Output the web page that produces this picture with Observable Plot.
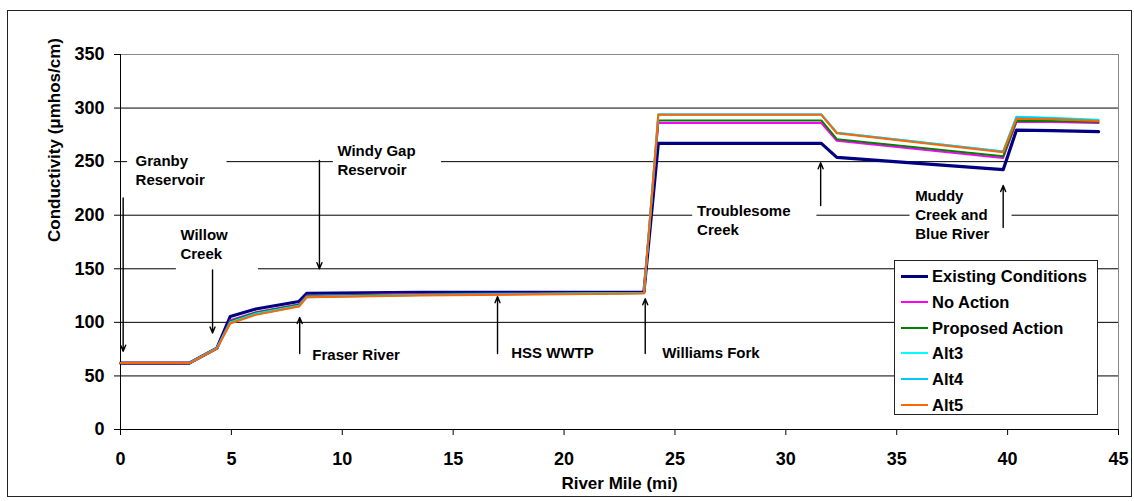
<!DOCTYPE html>
<html>
<head>
<meta charset="utf-8">
<script src="https://cdn.jsdelivr.net/npm/d3@7"></script>
<script src="https://cdn.jsdelivr.net/npm/@observablehq/plot@0.6"></script>
<style>
  body { margin: 0; background: #fff; font-family: "Liberation Sans", Arial, sans-serif; }
  #wrap { position: relative; width: 1134px; height: 501px; overflow: hidden; }
  #outer { position: absolute; left: 7px; top: 10px; width: 1125px; height: 487px; border: 1px solid #222; box-sizing: border-box; pointer-events: none; }
  #legend { position: absolute; left: 894px; top: 260px; width: 204px; height: 155px; background: #fff; border: 1px solid #222; box-sizing: border-box; }
  .item { position: absolute; left: 0; height: 20px; width: 200px; }
  .sw { position: absolute; left: 6px; width: 27px; top: 50%; }
  .lab { position: absolute; left: 37px; top: 0; line-height: 20px; font-size: 16.5px; font-weight: bold; color: #000; white-space: nowrap; }
</style>
</head>
<body>
<div id="wrap">
  <div id="chart"></div>
  <div id="legend"></div>
  <div id="outer"></div>
</div>
<script>
// ---- data ----
const riverMile = [0, 3.1, 4.35, 4.95, 6.1, 8.05, 8.4, 13.5, 23.6, 24.25, 31.6, 32.3, 39.8, 40.4, 42, 44.1];
const existingConditions = [62, 62, 76, 105.5, 112.5, 119.5, 127, 128, 128, 267, 267, 254, 242.5, 279.5, 279, 278];
const noAction          = [62, 62, 76, 102, 109.5, 117, 125, 126.5, 127.5, 286, 286, 269.5, 253.5, 287, 287, 286];
const proposedAction    = [62, 62, 76, 101, 109, 116.5, 124.5, 126, 127.5, 288.5, 288.5, 271, 255, 288, 288, 287];
const alt3              = [62, 62, 76, 100, 108, 115.5, 124, 125.5, 127.5, 294, 294, 277, 259.5, 292, 291, 289];
const alt4              = [62, 62, 76, 99.5, 107.5, 115, 123.5, 125.5, 127.5, 294, 294, 277, 259.5, 291.5, 290.5, 288.5];
const alt5              = [62, 62, 75.5, 99, 107, 114.8, 123.5, 125, 127, 293.7, 293.7, 276.5, 258.8, 290, 289.5, 288];

const seriesNames = ["Existing Conditions", "No Action", "Proposed Action", "Alt3", "Alt4", "Alt5"];
const seriesValues = [existingConditions, noAction, proposedAction, alt3, alt4, alt5];
const seriesColors = ["#000080", "#FF00FF", "#008000", "#00FFFF", "#00C8FF", "#FF6600"];

const xTicks = [0, 5, 10, 15, 20, 25, 30, 35, 40, 45];
const yTicks = [0, 50, 100, 150, 200, 250, 300, 350];

// annotations (data coordinates)
const annoLabels = ["Granby\nReservoir", "Willow\nCreek", "Windy Gap\nReservoir", "Fraser River", "HSS WWTP", "Williams Fork", "Troublesome\nCreek", "Muddy\nCreek and\nBlue River"];
const annoX = [0.68, 2.7, 9.78, 8.65, 17.62, 24.43, 26.0, 35.83];
const annoY = [243, 174, 252.5, 71, 72, 72, 196.5, 201.6];

const arrowX = [0.12, 4.15, 8.97, 8.08, 17.0, 23.66, 31.57, 39.8];
const arrowFrom = [216, 149, 251, 71, 71, 71, 209, 188.5];
const arrowTo = [73, 90, 150, 104.5, 124, 122, 249, 227.7];

const boxX1 = [0.32, 2.52, 9.6, 25.8, 35.6];
const boxX2 = [4.8, 6.22, 14.47, 31.4, 40.2];
const boxY1 = [227, 146.5, 234, 178, 172.7];
const boxY2 = [258, 193, 269, 214.7, 228.7];

// ---- tables ----
const rows = [];
seriesNames.forEach((name, s) => {
  riverMile.forEach((m, i) => rows.push({series: name, mile: m, value: seriesValues[s][i]}));
});
const annos = annoLabels.map((t, i) => ({text: t, x: annoX[i], y: annoY[i]}));
const arrows = arrowX.map((x, i) => ({x, y1: arrowFrom[i], y2: arrowTo[i]}));
const boxes = boxX1.map((x1, i) => ({x1, x2: boxX2[i], y1: boxY1[i], y2: boxY2[i]}));

const chart = Plot.plot({
  width: 1134,
  height: 501,
  marginLeft: 120,
  marginRight: 16,
  marginTop: 54,
  marginBottom: 72,
  style: {fontFamily: "'Liberation Sans', Arial, sans-serif", fontWeight: "bold", fontSize: "15px", background: "transparent"},
  x: {domain: [0, 45], label: null},
  y: {domain: [0, 350], label: null},
  color: {domain: seriesNames, range: seriesColors},
  marks: [
    Plot.gridY(yTicks.filter(d => d > 0 && d < 350), {stroke: "#000", strokeOpacity: 1, strokeWidth: 1}),
    Plot.rect(boxes, {x1: "x1", x2: "x2", y1: "y1", y2: "y2", fill: "#fff"}),
    Plot.frame({stroke: "#888"}),
    Plot.ruleX([0], {stroke: "#000"}),
    Plot.ruleY([0], {stroke: "#000"}),
    Plot.axisY({ticks: yTicks, tickSize: 6, tickPadding: 10, fontSize: 18, fontWeight: "bold", label: null}),
    Plot.axisX({ticks: xTicks, tickSize: 6, tickPadding: 17, fontSize: 18, fontWeight: "bold", label: null}),
    Plot.line(rows.filter(d => d.series === "Existing Conditions"), {x: "mile", y: "value", stroke: "series", strokeWidth: 3.2}),
    Plot.line(rows.filter(d => d.series !== "Existing Conditions"), {x: "mile", y: "value", z: "series", stroke: "series", strokeWidth: 2}),
    Plot.arrow(arrows, {x: "x", y1: "y1", y2: "y2", stroke: "#000", strokeWidth: 1.4, headLength: 7, headAngle: 45}),
    Plot.text(annos, {x: "x", y: "y", text: "text", textAnchor: "start", fontSize: 15, fontWeight: "bold", lineHeight: 1.27, fill: "#000"}),
    Plot.text(["River Mile (mi)"], {frameAnchor: "bottom", dy: 59, fontSize: 17, fontWeight: "bold", fill: "#000"}),
    Plot.text(["Conductivity (\u03bcmhos/cm)"], {frameAnchor: "left", dx: -66, rotate: -90, fontSize: 17, fontWeight: "bold", fill: "#000"})
  ]
});
document.getElementById("chart").appendChild(chart);

// ---- legend ----
const legend = document.getElementById("legend");
seriesNames.forEach((name, i) => {
  const item = document.createElement("div");
  item.className = "item";
  item.style.top = (5 + i * 25.8) + "px";
  const sw = document.createElement("div");
  sw.className = "sw";
  const h = i === 0 ? 3 : 2;
  sw.style.height = h + "px";
  sw.style.marginTop = (-h / 2) + "px";
  sw.style.background = seriesColors[i];
  const lab = document.createElement("div");
  lab.className = "lab";
  lab.textContent = name;
  item.appendChild(sw);
  item.appendChild(lab);
  legend.appendChild(item);
});
</script>
</body>
</html>
